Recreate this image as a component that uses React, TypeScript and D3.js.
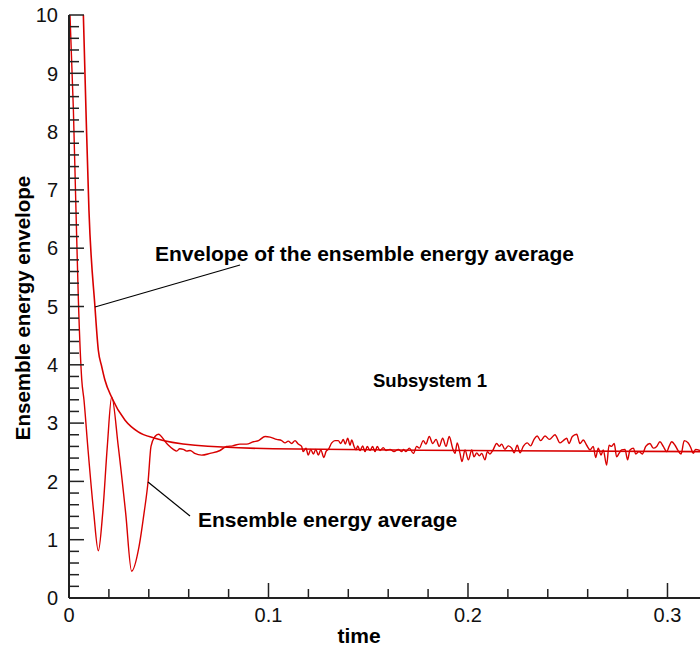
import React from 'react';
import * as d3 from 'd3';

// envelope of the ensemble energy average: [time, value]
const envelope: [number, number][] = [
  [0.0072, 10.0], [0.0085, 8.37], [0.0100, 6.65], [0.0130, 5.0], [0.0147, 4.25],
  [0.0164, 3.97], [0.0180, 3.74], [0.0214, 3.44], [0.0281, 3.05], [0.0347, 2.85],
  [0.0431, 2.74], [0.0632, 2.62], [0.1024, 2.56], [0.2010, 2.53], [0.3163, 2.51],
];

// ensemble energy average: [time, value]
const average: [number, number][] = [
  [0.0005, 10.0], [0.0022, 8.37], [0.0035, 6.65], [0.0047, 5.11], [0.0064, 3.74],
  [0.0075, 3.40], [0.0094, 2.60], [0.0124, 1.46], [0.0147, 0.81], [0.0169, 1.46],
  [0.0192, 2.60], [0.0214, 3.45], [0.0247, 2.60], [0.0284, 1.46], [0.0314, 0.46],
  [0.0351, 0.88], [0.0376, 1.45], [0.0397, 2.02], [0.0411, 2.60], [0.0431, 2.77],
  [0.0448, 2.81], [0.0490, 2.65], [0.0523, 2.55], [0.0540, 2.52], [0.0555, 2.56],
  [0.0573, 2.55], [0.0590, 2.52], [0.0607, 2.53], [0.0630, 2.48], [0.0665, 2.45],
  [0.0707, 2.48], [0.0757, 2.53], [0.0790, 2.60], [0.0820, 2.61], [0.0857, 2.64],
  [0.0890, 2.64], [0.0924, 2.68], [0.0950, 2.70], [0.0983, 2.77], [0.1008, 2.76],
  [0.1041, 2.72], [0.1066, 2.70], [0.1083, 2.66], [0.1099, 2.69], [0.1116, 2.65],
  [0.1133, 2.70], [0.1149, 2.64], [0.1166, 2.60], [0.1174, 2.51], [0.1188, 2.57],
  [0.1199, 2.45], [0.1212, 2.55], [0.1225, 2.47], [0.1237, 2.55], [0.1250, 2.45],
  [0.1262, 2.54], [0.1278, 2.41], [0.1288, 2.51], [0.1300, 2.55], [0.1317, 2.66],
  [0.1333, 2.70], [0.1350, 2.70], [0.1362, 2.65], [0.1375, 2.72], [0.1385, 2.64],
  [0.1397, 2.74], [0.1409, 2.62], [0.1417, 2.71], [0.1429, 2.60], [0.1439, 2.54],
  [0.1447, 2.61], [0.1459, 2.53], [0.1472, 2.61], [0.1484, 2.51], [0.1495, 2.60],
  [0.1509, 2.53], [0.1522, 2.60], [0.1534, 2.51], [0.1545, 2.60], [0.1559, 2.53],
  [0.1575, 2.58], [0.1589, 2.53], [0.1609, 2.55], [0.1629, 2.51], [0.1651, 2.55],
  [0.1668, 2.51], [0.1676, 2.55], [0.1689, 2.51], [0.1706, 2.57], [0.1726, 2.48],
  [0.1743, 2.60], [0.1756, 2.57], [0.1776, 2.70], [0.1789, 2.64], [0.1806, 2.77],
  [0.1823, 2.65], [0.1840, 2.72], [0.1856, 2.60], [0.1873, 2.74], [0.1890, 2.60],
  [0.1906, 2.77], [0.1923, 2.57], [0.1935, 2.48], [0.1946, 2.66], [0.1960, 2.48],
  [0.1970, 2.34], [0.1985, 2.54], [0.2002, 2.37], [0.2019, 2.54], [0.2030, 2.42],
  [0.2044, 2.49], [0.2057, 2.44], [0.2069, 2.48], [0.2085, 2.37], [0.2097, 2.51],
  [0.2110, 2.47], [0.2124, 2.53], [0.2144, 2.65], [0.2157, 2.60], [0.2169, 2.64],
  [0.2185, 2.55], [0.2202, 2.61], [0.2219, 2.57], [0.2231, 2.49], [0.2247, 2.62],
  [0.2261, 2.49], [0.2277, 2.60], [0.2297, 2.66], [0.2314, 2.61], [0.2331, 2.72],
  [0.2347, 2.78], [0.2364, 2.70], [0.2386, 2.78], [0.2408, 2.72], [0.2436, 2.80],
  [0.2461, 2.66], [0.2478, 2.70], [0.2495, 2.74], [0.2506, 2.65], [0.2523, 2.77],
  [0.2545, 2.81], [0.2561, 2.65], [0.2578, 2.71], [0.2595, 2.62], [0.2612, 2.54],
  [0.2628, 2.60], [0.2640, 2.41], [0.2653, 2.57], [0.2667, 2.45], [0.2678, 2.54],
  [0.2695, 2.28], [0.2707, 2.62], [0.2720, 2.60], [0.2733, 2.65], [0.2745, 2.42],
  [0.2757, 2.48], [0.2770, 2.54], [0.2787, 2.55], [0.2800, 2.37], [0.2812, 2.54],
  [0.2829, 2.57], [0.2841, 2.47], [0.2857, 2.51], [0.2874, 2.47], [0.2891, 2.60],
  [0.2912, 2.65], [0.2929, 2.57], [0.2946, 2.60], [0.2962, 2.68], [0.2979, 2.60],
  [0.2996, 2.51], [0.3008, 2.60], [0.3021, 2.68], [0.3038, 2.62], [0.3051, 2.54],
  [0.3068, 2.47], [0.3084, 2.70], [0.3104, 2.66], [0.3118, 2.57], [0.3129, 2.48],
  [0.3141, 2.55], [0.3163, 2.53],
];

const yTicks = [0, 1, 2, 3, 4, 5, 6, 7, 8, 9, 10];
const xTicks = [0, 0.1, 0.2, 0.3];
const xTickLabels = ['0', '0.1', '0.2', '0.3'];

const W = 700;
const H = 647;
const font = 'Arial, "Liberation Sans", sans-serif';
const red = '#d80000';

const App = () => {
  const x = d3.scaleLinear().domain([0, 0.3163]).range([69, 700]);
  const y = d3.scaleLinear().domain([0, 10]).range([598, 15]);

  const line = d3.line<[number, number]>()
    .x(d => x(d[0]))
    .y(d => y(d[1]))
    .curve(d3.curveMonotoneX);

  const yMinor = d3.range(0, 10.001, 0.2).filter(v => Math.abs(v - Math.round(v)) > 0.01);
  const xMinor = d3.range(0, 0.3163, 0.02).filter(v => Math.abs(v * 10 - Math.round(v * 10)) > 0.01);

  return (
    <svg width={W} height={H} style={{ position: 'absolute', left: 0, top: 0, background: '#fff' }}
      fontFamily={font}>
      <path d={line(envelope) ?? ''} fill="none" stroke={red} strokeWidth={1.6} />
      <path d={line(average) ?? ''} fill="none" stroke={red} strokeWidth={1.4} />

      {/* axes */}
      <line x1={69} x2={69} y1={y(10)} y2={y(0)} stroke="#222" strokeWidth={2} />
      <line x1={69} x2={700} y1={598} y2={598} stroke="#222" strokeWidth={2} />
      {yTicks.map(v => (
        <g key={'y' + v}>
          <line x1={69} x2={84} y1={y(v)} y2={y(v)} stroke="#222" strokeWidth={1.5} />
          <text x={58} y={y(v)} dy="0.36em" textAnchor="end" fontSize={20} fill="#111">{v}</text>
        </g>
      ))}
      {yMinor.map(v => (
        <line key={'ym' + v} x1={69} x2={79} y1={y(v)} y2={y(v)} stroke="#222" strokeWidth={1.5} />
      ))}
      {xTicks.map((v, i) => (
        <g key={'x' + v}>
          <line x1={x(v)} x2={x(v)} y1={598} y2={583} stroke="#222" strokeWidth={1.5} />
          <text x={x(v)} y={622} textAnchor="middle" fontSize={20} fill="#111">{xTickLabels[i]}</text>
        </g>
      ))}
      {xMinor.map(v => (
        <line key={'xm' + v} x1={x(v)} x2={x(v)} y1={598} y2={589} stroke="#222" strokeWidth={1.5} />
      ))}

      <text x={359} y={643} textAnchor="middle" fontSize={21} fontWeight="bold">time</text>
      <text transform="translate(30,308) rotate(-90)" textAnchor="middle" fontSize={20.5} fontWeight="bold">
        Ensemble energy envelope
      </text>

      {/* annotations */}
      <line x1={95} y1={307} x2={240} y2={265} stroke="#000" strokeWidth={1.2} />
      <text x={155} y={261} fontSize={21} fontWeight="bold">Envelope of the ensemble energy average</text>
      <line x1={148} y1={482} x2={190} y2={516} stroke="#000" strokeWidth={1.2} />
      <text x={198} y={527} fontSize={21} fontWeight="bold">Ensemble energy average</text>
      <text x={373} y={387} fontSize={18.5} fontWeight="bold">Subsystem 1</text>
    </svg>
  );
};

export default App;
